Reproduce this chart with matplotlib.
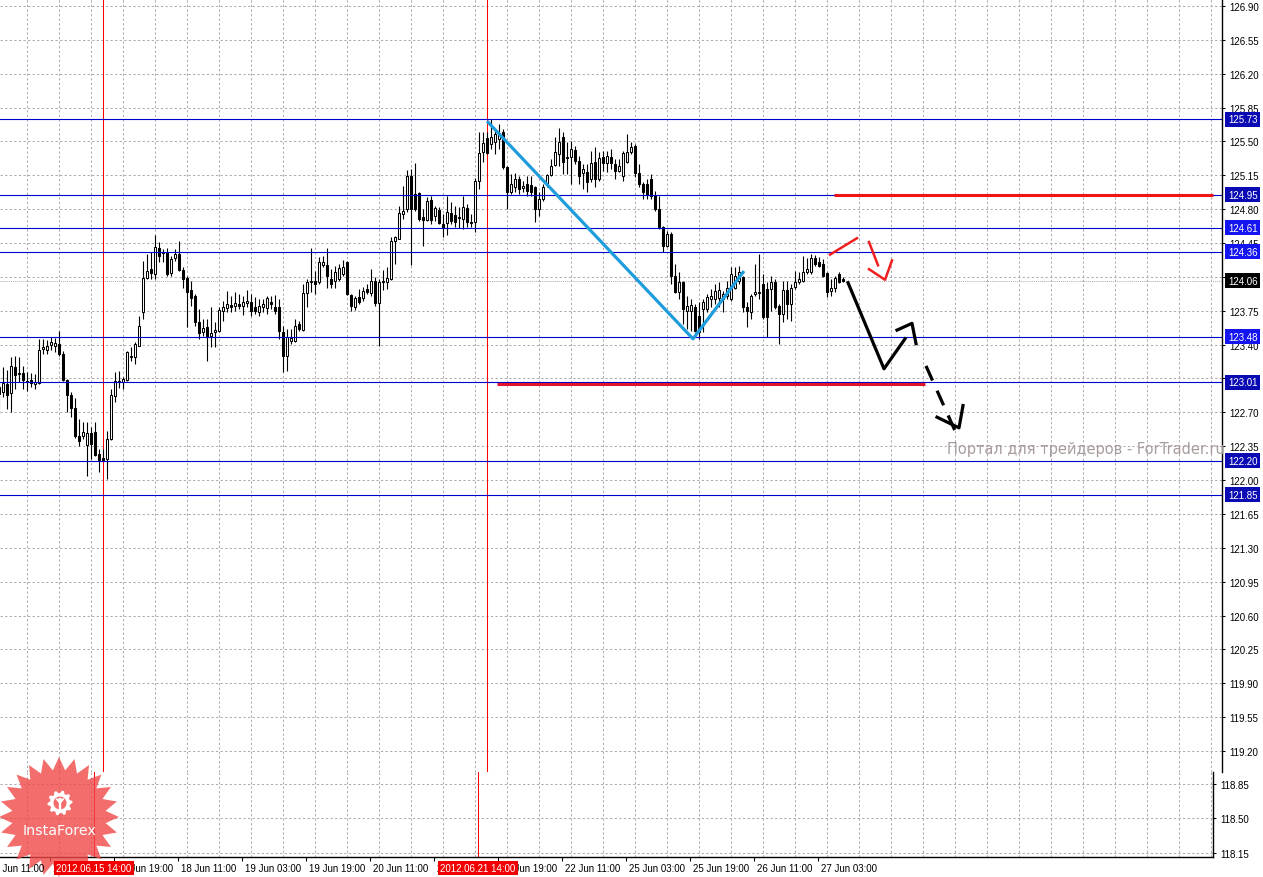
import numpy as np
import matplotlib
matplotlib.use("Agg")
import matplotlib.pyplot as plt
from matplotlib.transforms import blended_transform_factory as blend, ScaledTranslation
from matplotlib.patches import Polygon, Circle

plt.rcParams['font.family'] = ['Liberation Sans', 'DejaVu Sans']

# ---------------- data (USD/JPY-like H1 candles, bar index 0 = 14 Jun 13:00) -------------
FIRST_BAR = -1
opens = [122.96, 122.91, 122.99, 122.90, 123.17, 123.11, 123.11, 123.02, 123.03, 122.99,
         123.00, 123.35, 123.34, 123.40, 123.39, 123.41, 123.30, 123.03, 122.88, 122.74,
         122.46, 122.46, 122.36, 122.49, 122.50, 122.27, 122.23, 122.22, 122.42, 122.87,
         123.02, 123.01, 123.03, 123.27, 123.27, 123.39, 123.74, 124.09, 124.18, 124.13,
         124.40, 124.36, 124.36, 124.14, 124.30, 124.34, 124.17, 124.09, 123.96, 123.90,
         123.63, 123.53, 123.58, 123.49, 123.53, 123.54, 123.75, 123.78, 123.81, 123.80,
         123.82, 123.80, 123.83, 123.84, 123.79, 123.74, 123.79, 123.78, 123.84, 123.79,
         123.79, 123.53, 123.28, 123.44, 123.44, 123.61, 123.55, 123.93, 124.05, 124.06,
         124.05, 124.22, 124.22, 124.08, 124.06, 124.08, 124.13, 124.25, 123.91, 123.79,
         123.89, 123.88, 123.97, 123.93, 124.06, 123.83, 124.05, 124.05, 124.08, 124.47,
         124.49, 124.75, 124.80, 125.14, 124.96, 124.97, 124.72, 124.69, 124.89, 124.73,
         124.79, 124.65, 124.66, 124.76, 124.74, 124.72, 124.70, 124.81, 124.67, 124.67,
         125.09, 125.39, 125.54, 125.47, 125.49, 125.52, 125.60, 125.24, 124.98, 125.03,
         125.11, 125.02, 125.06, 125.05, 125.03, 124.80, 124.91, 125.06, 125.15, 125.26,
         125.37, 125.55, 125.34, 125.34, 125.41, 125.30, 125.17, 125.18, 125.11, 125.29,
         125.11, 125.34, 125.28, 125.34, 125.27, 125.19, 125.14, 125.29, 125.39, 125.45,
         125.17, 125.06, 125.06, 125.11, 124.95, 124.80, 124.62, 124.42, 124.54, 124.11,
         123.94, 124.05, 123.75, 123.75, 123.79, 123.70, 123.77, 123.77, 123.87, 123.87,
         123.88, 123.87, 123.90, 123.87, 123.99, 124.06, 124.10, 123.79, 123.74, 123.92,
         123.93, 124.03, 123.97, 123.97, 124.05, 123.80, 123.72, 123.96, 123.82, 124.00,
         124.05, 124.06, 124.15, 124.15, 124.30, 124.25, 124.23, 124.14, 123.95, 123.99,
         124.13, 124.08]
highs = [122.99, 123.17, 123.14, 123.27, 123.28, 123.27, 123.18, 123.12, 123.11, 123.10,
         123.46, 123.46, 123.45, 123.48, 123.47, 123.54, 123.33, 123.04, 122.91, 122.85,
         122.63, 122.60, 122.60, 122.55, 122.60, 122.32, 122.32, 122.51, 122.94, 123.12,
         123.13, 123.07, 123.33, 123.38, 123.43, 123.70, 124.26, 124.34, 124.36, 124.53,
         124.46, 124.39, 124.40, 124.32, 124.39, 124.47, 124.20, 124.11, 124.06, 123.92,
         123.77, 123.66, 123.66, 123.79, 123.63, 123.79, 123.85, 123.95, 123.90, 123.94,
         123.92, 123.90, 123.96, 123.92, 123.89, 123.87, 123.87, 123.90, 123.90, 123.91,
         123.87, 123.59, 123.56, 123.56, 123.66, 123.64, 124.03, 124.08, 124.40, 124.16,
         124.31, 124.32, 124.40, 124.18, 124.21, 124.23, 124.27, 124.26, 123.92, 123.90,
         123.97, 124.00, 124.03, 124.18, 124.10, 124.08, 124.17, 124.20, 124.51, 124.52,
         124.83, 125.04, 125.20, 125.22, 125.28, 124.98, 124.80, 124.93, 124.94, 124.83,
         124.82, 124.75, 124.94, 124.87, 124.83, 124.82, 124.94, 124.85, 124.75, 125.12,
         125.60, 125.60, 125.60, 125.73, 125.61, 125.68, 125.63, 125.25, 125.16, 125.17,
         125.14, 125.09, 125.14, 125.14, 125.04, 124.98, 125.06, 125.16, 125.32, 125.55,
         125.64, 125.60, 125.49, 125.50, 125.45, 125.35, 125.27, 125.27, 125.40, 125.44,
         125.39, 125.40, 125.40, 125.42, 125.32, 125.32, 125.40, 125.58, 125.49, 125.47,
         125.27, 125.08, 125.11, 125.16, 124.99, 124.94, 124.63, 124.57, 124.56, 124.23,
         124.15, 124.06, 123.90, 123.87, 123.82, 123.84, 123.87, 123.92, 123.97, 124.03,
         124.05, 123.95, 124.06, 124.20, 124.20, 124.21, 124.11, 123.84, 123.92, 124.23,
         124.34, 124.13, 124.05, 124.11, 124.08, 123.82, 124.06, 124.06, 124.03, 124.16,
         124.15, 124.32, 124.30, 124.34, 124.33, 124.31, 124.28, 124.15, 124.08, 124.11,
         124.15, 124.10]
lows = [122.68, 122.86, 122.73, 122.70, 122.94, 123.01, 122.94, 122.92, 122.96, 122.94,
        122.99, 123.30, 123.30, 123.34, 123.32, 123.28, 123.02, 122.70, 122.65, 122.44,
        122.35, 122.42, 122.04, 122.22, 122.25, 122.08, 122.20, 122.01, 122.41, 122.81,
        122.95, 122.94, 123.02, 123.23, 123.20, 123.39, 123.66, 124.08, 124.08, 124.08,
        124.25, 124.25, 124.11, 124.11, 124.26, 124.16, 123.99, 123.58, 123.80, 123.59,
        123.46, 123.49, 123.23, 123.38, 123.38, 123.53, 123.64, 123.74, 123.74, 123.75,
        123.77, 123.71, 123.79, 123.70, 123.72, 123.70, 123.74, 123.72, 123.77, 123.72,
        123.46, 123.12, 123.13, 123.41, 123.43, 123.54, 123.54, 123.79, 123.94, 123.92,
        124.03, 124.20, 123.99, 123.99, 123.99, 124.06, 124.11, 123.91, 123.75, 123.76,
        123.82, 123.85, 123.92, 123.90, 123.80, 123.39, 123.96, 123.97, 124.07, 124.23,
        124.49, 124.70, 124.77, 124.22, 124.78, 124.68, 124.42, 124.68, 124.65, 124.68,
        124.65, 124.51, 124.53, 124.65, 124.62, 124.61, 124.60, 124.62, 124.62, 124.56,
        125.01, 125.29, 125.37, 125.42, 125.37, 125.42, 125.22, 124.80, 124.96, 124.98,
        124.96, 124.98, 124.94, 124.94, 124.67, 124.73, 124.88, 125.03, 125.14, 125.25,
        125.25, 125.16, 125.16, 125.06, 125.27, 125.06, 125.01, 124.98, 125.08, 125.03,
        125.09, 125.19, 125.18, 125.22, 125.11, 125.18, 125.09, 125.28, 125.37, 125.13,
        125.03, 124.91, 124.91, 124.91, 124.78, 124.60, 124.36, 124.41, 124.03, 123.93,
        123.87, 123.61, 123.56, 123.54, 123.53, 123.46, 123.53, 123.74, 123.79, 123.82,
        123.79, 123.74, 123.87, 123.85, 123.97, 124.03, 123.74, 123.58, 123.66, 123.90,
        123.87, 123.66, 123.48, 123.75, 123.77, 123.41, 123.63, 123.66, 123.64, 123.97,
        124.03, 124.05, 124.13, 124.13, 124.21, 124.20, 124.10, 123.89, 123.90, 123.94,
        124.04, 124.05]
closes = [122.89, 123.00, 122.88, 123.18, 123.09, 123.10, 123.03, 123.01, 123.00, 123.01,
          123.34, 123.38, 123.39, 123.43, 123.42, 123.30, 123.03, 122.88, 122.74, 122.46,
          122.40, 122.50, 122.49, 122.37, 122.26, 122.21, 122.21, 122.42, 122.88, 123.02,
          123.01, 123.04, 123.32, 123.28, 123.41, 123.59, 124.09, 124.16, 124.14, 124.41,
          124.32, 124.35, 124.13, 124.29, 124.34, 124.17, 124.08, 123.94, 123.88, 123.63,
          123.52, 123.57, 123.48, 123.52, 123.55, 123.76, 123.79, 123.82, 123.79, 123.83,
          123.80, 123.84, 123.85, 123.75, 123.75, 123.80, 123.82, 123.88, 123.82, 123.75,
          123.54, 123.28, 123.48, 123.47, 123.59, 123.56, 123.93, 124.05, 124.06, 124.03,
          124.25, 124.25, 124.11, 124.03, 124.15, 124.19, 124.20, 123.92, 123.80, 123.88,
          123.84, 123.95, 123.94, 124.06, 123.83, 124.05, 124.06, 124.09, 124.47, 124.51,
          124.76, 124.78, 125.14, 124.80, 124.80, 124.70, 124.69, 124.88, 124.69, 124.81,
          124.66, 124.61, 124.77, 124.68, 124.67, 124.71, 124.82, 124.67, 124.66, 125.09,
          125.38, 125.48, 125.38, 125.55, 125.58, 125.59, 125.24, 124.98, 125.06, 125.11,
          125.01, 125.04, 124.99, 124.98, 124.80, 124.91, 125.03, 125.15, 125.25, 125.39,
          125.49, 125.29, 125.33, 125.42, 125.30, 125.14, 125.22, 125.08, 125.28, 125.11,
          125.33, 125.28, 125.35, 125.28, 125.19, 125.25, 125.38, 125.39, 125.44, 125.17,
          125.06, 124.98, 124.96, 124.94, 124.80, 124.62, 124.42, 124.54, 124.11, 123.94,
          124.05, 123.77, 123.80, 123.81, 123.54, 123.53, 123.84, 123.89, 123.90, 123.95,
          123.96, 123.92, 123.99, 124.13, 124.11, 124.15, 123.79, 123.75, 123.90, 123.94,
          123.94, 123.69, 123.69, 124.05, 123.79, 123.72, 123.96, 123.82, 123.99, 124.05,
          124.08, 124.15, 124.18, 124.30, 124.23, 124.21, 124.11, 123.94, 123.99, 124.09,
          124.05, 124.06]

price_ticks = [126.90, 126.55, 126.20, 125.85, 125.50, 125.15, 124.80, 124.45, 124.10,
               123.75, 123.40, 123.05, 122.70, 122.35, 122.00, 121.65, 121.30, 120.95,
               120.60, 120.25, 119.90, 119.55, 119.20]
sub_ticks = [118.85, 118.50, 118.15]

levels = [125.73, 124.95, 124.61, 124.36, 123.48, 123.01, 122.20, 121.85]
level_box = ['#0A0AB4', '#0A0AB4', '#1414F0', '#1414F0', '#1414F0', '#0A0AB4', '#0A0AB4', '#0A0AB4']
bid_price = 124.06

marker_bars = [25, 121]
marker_labels = ['2012.06.15 14:00', '2012.06.21 14:00']

time_tick_bars = [-2, 14, 30, 46, 62, 78, 94, 110, 126, 142, 158, 174, 190, 206]
time_tick_labels = ['14 Jun 11:00', '15 Jun 03:00', '15 Jun 19:00', '18 Jun 11:00',
                    '19 Jun 03:00', '19 Jun 19:00', '20 Jun 11:00', '21 Jun 03:00',
                    '21 Jun 19:00', '22 Jun 11:00', '25 Jun 03:00', '25 Jun 19:00',
                    '26 Jun 11:00', '27 Jun 03:00']

# drawn analysis objects (bar index, price)
wave_x = [121.0, 172.5, 185.25]
wave_y = [125.71, 123.46, 124.16]
red_hi = (207.75, 302.5, 124.95)
red_lo = (123.5, 230.5, 122.99)
red_arrow = [([206.75, 213.5], [124.33, 124.50]),
             ([216.5, 218.75], [124.46, 124.22]),
             ([216.5, 220.5, 222.25], [124.18, 124.07, 124.27])]
black_path_x = [211.25, 220.25, 225.5]
black_path_y = [124.04, 123.15, 123.46]
black_head_x = [223.5, 227.25, 228.25]
black_head_y = [123.55, 123.62, 123.41]
dash_x = [230.75, 238.0]
dash_y = [123.18, 122.51]
dash_head_x = [233.5, 239.0, 240.0]
dash_head_y = [122.65, 122.54, 122.77]

# ---------------- figure ----------------
W, H = 1263, 878
fig = plt.figure(figsize=(W / 100, H / 100), dpi=100)
ax = fig.add_axes([0, (H - 773) / H, 1222 / W, 773 / H])
sub = fig.add_axes([0, (H - 858) / H, 1213 / W, 85 / H])

ax.set_xlim(-0.75, 304.75)
ax.set_ylim(118.983, 126.972)
sub.set_xlim(1.5, 304.75)
sub.set_ylim(118.11, 118.966)

for a in (ax, sub):
    for s in ('left', 'top', 'bottom', 'right'):
        a.spines[s].set_visible(False)
    a.spines['right'].set_visible(True)
    a.spines['right'].set_linewidth(1.0)
sub.spines['bottom'].set_visible(True)
sub.spines['bottom'].set_linewidth(1.0)

gc = '#B4AAB4'
dash = (0, (2.2, 2.2))
for p in price_ticks:
    ax.axhline(p, color=gc, lw=0.75, ls=dash, zorder=1)
for p in sub_ticks:
    sub.axhline(p, color=gc, lw=0.75, ls=dash, zorder=1)
for g in range(6, 305, 8):
    ax.axvline(g, color=gc, lw=0.75, ls=dash, zorder=1)
    sub.axvline(g + 2.25, color=gc, lw=0.75, ls=dash, zorder=1)

# candles
o = np.array(opens); h = np.array(highs); l = np.array(lows); c = np.array(closes)
xb = np.arange(len(o)) + FIRST_BAR
ax.vlines(xb, l, h, color='black', lw=0.8, zorder=3)
up = c >= o
ax.bar(xb, np.abs(c - o), width=0.5, bottom=np.minimum(o, c),
       color=np.where(up, 'white', 'black'), edgecolor='black', linewidth=0.75, zorder=4)

# bid line
ax.axhline(bid_price, color='#B8B0B8', lw=0.75, ls=(0, (1, 1)), zorder=2)

# horizontal levels
for lv in levels:
    ax.axhline(lv, color='#0000CD', lw=0.8, zorder=5)

# marker verticals
for m in marker_bars:
    ax.axvline(m, color='red', lw=0.75, zorder=2)
    sub.axvline(m, color='red', lw=0.75, zorder=2)

# analysis objects
ax.plot(wave_x, wave_y, color='#1E9CDC', lw=2.3, zorder=6, solid_capstyle='butt')
ax.plot([red_hi[0], red_hi[1]], [red_hi[2], red_hi[2]], color='#F01414', lw=2.2, zorder=6,
        solid_capstyle='butt')
ax.plot([red_lo[0], red_lo[1]], [red_lo[2], red_lo[2]], color='#E0142A', lw=2.2, zorder=6,
        solid_capstyle='butt')
for sx, sy in red_arrow:
    ax.plot(sx, sy, color='#F01E1E', lw=1.8, zorder=6)
ax.plot(black_path_x, black_path_y, color='black', lw=2.3, zorder=6)
ax.plot(black_head_x, black_head_y, color='black', lw=2.3, zorder=6)
ax.plot(dash_x, dash_y, color='black', lw=2.3, ls=(0, (5, 3.5)), zorder=6)
ax.plot(dash_head_x, dash_head_y, color='black', lw=2.3, zorder=6)

# right price scale
ax.yaxis.tick_right()
ax.set_yticks(price_ticks)
ax.set_yticklabels([f'{p:.2f}' for p in price_ticks])
ax.tick_params(axis='y', length=2.2, width=0.75, pad=2.9, labelsize=7, direction='out')
ax.set_xticks([])
sub.yaxis.tick_right()
sub.set_yticks(sub_ticks)
sub.set_yticklabels([f'{p:.2f}' for p in sub_ticks])
sub.tick_params(axis='y', length=2.2, width=0.75, pad=2.9, labelsize=7, direction='out')
inside = [t for t in time_tick_bars if 1.5 <= t <= 304.75]
sub.set_xticks(inside)
sub.set_xticklabels([''] * len(inside))
sub.tick_params(axis='x', length=3, width=0.75, direction='out')

ytr = blend(ax.transAxes, ax.transData)
for lv, col in zip(levels, level_box):
    ax.text(1.0048, lv, f'{lv:.2f}', transform=ytr, color='white', fontsize=7,
            ha='left', va='center', clip_on=False, zorder=8,
            bbox=dict(boxstyle='square,pad=0.25', fc=col, ec='none'))
ax.text(1.0048, bid_price, f'{bid_price:.2f}', transform=ytr, color='white', fontsize=7,
        ha='left', va='center', clip_on=False, zorder=8,
        bbox=dict(boxstyle='square,pad=0.25', fc='black', ec='none'))

# watermark
ax.text(947 / 1222, 1 - 450 / 773, 'Портал для трейдеров - ForTrader.ru',
        transform=ax.transAxes, fontsize=10.5, color='#A89C9C', family='DejaVu Sans',
        ha='left', va='center', clip_on=False, zorder=2.7)

# ---------------- logo (decoration) ----------------
pxt = fig.dpi_scale_trans
cx, cy = 0.59, (H - 818) / 100
n = 24
ang = np.linspace(0, 2 * np.pi, 2 * n, endpoint=False) + np.pi / 2
rad = np.where(np.arange(2 * n) % 2 == 0, 0.60, 0.47)
star = Polygon(np.c_[cx + rad * np.cos(ang), cy + rad * np.sin(ang)], closed=True,
               transform=pxt, fc='#F04848', ec='none', alpha=0.8, zorder=10)
fig.add_artist(star)
gx, gy = 0.60, (H - 804) / 100
ga = np.linspace(0, 2 * np.pi, 40, endpoint=False)
gr = np.where((np.arange(40) // 2) % 2 == 0, 0.125, 0.10)
fig.add_artist(Polygon(np.c_[gx + gr * np.cos(ga), gy + gr * np.sin(ga)], closed=True,
                       transform=pxt, fc='white', ec='none', zorder=11))
fig.add_artist(Circle((gx, gy), 0.065, transform=pxt, fc='#F26A6A', ec='none', zorder=12))
fig.add_artist(Circle((gx, gy + 0.035), 0.018, transform=pxt, fc='white', ec='none', zorder=13))
fig.add_artist(Polygon([[gx - 0.045, gy + 0.04], [gx - 0.012, gy], [gx - 0.012, gy - 0.1],
                        [gx + 0.012, gy - 0.1], [gx + 0.012, gy], [gx + 0.045, gy + 0.04],
                        [gx + 0.03, gy + 0.05], [gx, gy + 0.015], [gx - 0.03, gy + 0.05]],
                       closed=True, transform=pxt, fc='white', ec='none', zorder=13))
fig.text(0.60, (H - 831) / 100, 'InstaForex', transform=pxt, color='white',
         fontsize=10.3, family='DejaVu Sans', ha='center', va='center', zorder=14)

# ---------------- time axis labels ----------------
ty = (H - 869) / H
ttr = blend(sub.transData, fig.transFigure)
off = ScaledTranslation(3 / 100, 0, fig.dpi_scale_trans)
for t, lab in zip(time_tick_bars, time_tick_labels):
    fig.text(t, ty, lab, transform=ttr + off, fontsize=7, ha='left', va='center',
             color='black', zorder=20)
for m, lab in zip(marker_bars, marker_labels):
    fig.text(m, ty, lab, transform=ttr, fontsize=7, ha='center', va='center',
             color='white', zorder=21,
             bbox=dict(boxstyle='square,pad=0.2', fc='#F00000', ec='none'))

fig.savefig('out.png', dpi=100, facecolor='white')
